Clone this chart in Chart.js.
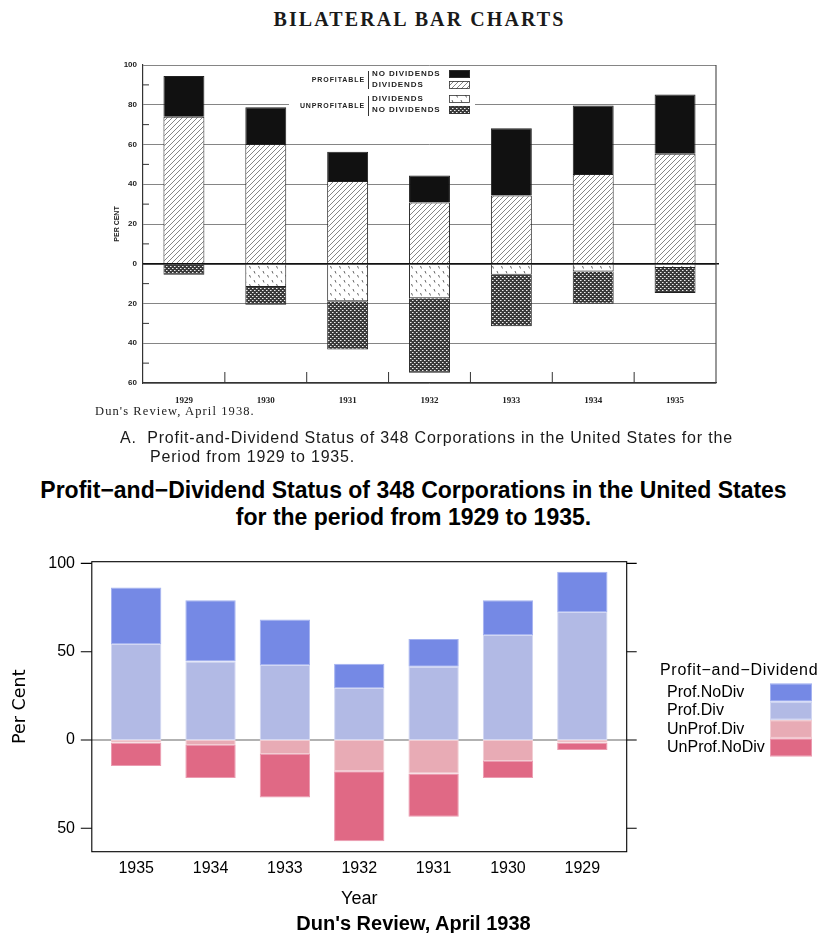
<!DOCTYPE html>
<html>
<head>
<meta charset="utf-8">
<title>Bilateral bar charts</title>
<script src="https://cdn.jsdelivr.net/npm/chart.js@4.4.0/dist/chart.umd.min.js"></script>
<style>
  body { margin: 0; background: #fff; }
  #page { position: relative; width: 821px; height: 933px; overflow: hidden; background: #fff; }
  .txt { position: absolute; white-space: nowrap; color: #000; }
  canvas { position: absolute; left: 0; }
  #scanHeading { left: 9px; width: 821px; top: 9px; text-align: center; font: bold 20px/20px "Liberation Serif", serif; letter-spacing: 2.1px; color: #1a1a1a; }
  #scanSource { left: 95px; top: 405px; font: 12.5px/12.5px "Liberation Serif", serif; letter-spacing: 1.1px; color: #222; }
  .scanCap { font: 16px/16px "Liberation Sans", sans-serif; letter-spacing: 0.8px; color: #1a1a1a; }
  #mainTitle { left: 3px; width: 821px; top: 477px; text-align: center; font: bold 23px/26.7px "Liberation Sans", Arial, sans-serif; }
  #mainSource { left: 3px; width: 821px; top: 913px; text-align: center; font: bold 20px/20px "Liberation Sans", Arial, sans-serif; }
</style>
</head>
<body>
<div id="page">
  <div class="txt" id="scanHeading">BILATERAL BAR CHARTS</div>
  <canvas id="scanChart" width="821" height="470" style="top:0"></canvas>
  <div class="txt" id="scanSource">Dun's Review, April 1938.</div>
  <div class="txt scanCap" style="left:120px;top:430px">A.&nbsp; Profit-and-Dividend Status of 348 Corporations in the United States for the</div>
  <div class="txt scanCap" style="left:150px;top:449px">Period from 1929 to 1935.</div>
  <div class="txt" id="mainTitle">Profit&minus;and&minus;Dividend Status of 348 Corporations in the United States<br>for the period from 1929 to 1935.</div>
  <canvas id="latticeChart" width="821" height="463" style="top:470px"></canvas>
  <div class="txt" id="mainSource">Dun's Review, April 1938</div>
</div>
<script>
// years, in the order of the 1938 original
const years = ["1929", "1930", "1931", "1932", "1933", "1934", "1935"];

// values (per cent of 348 corporations)
const profNoDiv   = [22.8, 19.8, 15.7, 13.8, 25.8, 34.7, 32.0];
const profDiv     = [72.5, 59.4, 41.5, 29.4, 42.5, 44.5, 54.3];
const unprofDiv   = [1.5, 11.9, 18.9, 17.7, 7.9, 2.8, 1.5];
const unprofNoDiv = [4.2, 9.6, 24.5, 39.7, 24.6, 18.7, 13.2];

// values
const scanProfNoDiv   = [20.5, 18.4, 14.7, 13.6, 33.9, 34.4, 29.8];
const scanProfDiv     = [74.0, 60.3, 41.6, 30.8, 34.3, 45.2, 55.3];
const scanUnprofDiv   = [0, 11.7, 18.9, 17.3, 5.5, 3.9, 2.2];
const scanUnprofNoDiv = [5.5, 8.9, 24.3, 37.6, 26.0, 16.2, 12.5];

const scanTicks  = [-60, -40, -20, 0, 20, 40, 60, 80, 100];
const scanMinor  = [-50, -30, -10, 10, 30, 50, 70, 90];
const lowerTicks = [-50, 0, 50, 100];

const seriesNames = ["Prof.NoDiv", "Prof.Div", "UnProf.Div", "UnProf.NoDiv"];
const scanGroups  = ["PROFITABLE", "UNPROFITABLE"];
const scanKinds   = ["NO DIVIDENDS", "DIVIDENDS", "DIVIDENDS", "NO DIVIDENDS"];

Chart.defaults.font.family = '"Liberation Sans", Arial, sans-serif';
Chart.defaults.color = "#000";

// ---------- top: the 1938 original ----------
const scanCtx = document.getElementById("scanChart").getContext("2d");

function tile(w, h, draw) {
  const c = document.createElement("canvas");
  c.width = w; c.height = h;
  draw(c.getContext("2d"));
  return scanCtx.createPattern(c, "repeat");
}
const hatch = tile(5, 5, g => {
  g.fillStyle = "#fff"; g.fillRect(0, 0, 5, 5);
  g.strokeStyle = "#666"; g.lineWidth = 0.8;
  g.beginPath();
  g.moveTo(0, 5); g.lineTo(5, 0);
  g.moveTo(-1, 1); g.lineTo(1, -1);
  g.moveTo(4, 6); g.lineTo(6, 4);
  g.stroke();
});
const dashes = tile(9, 9, g => {
  g.fillStyle = "#fff"; g.fillRect(0, 0, 9, 9);
  g.strokeStyle = "#666"; g.lineWidth = 1;
  g.beginPath();
  g.moveTo(2, 1); g.lineTo(3, 3.5);
  g.moveTo(6.5, 5); g.lineTo(7.5, 7.5);
  g.stroke();
});
const dots = tile(4, 4, g => {
  g.fillStyle = "#3a3a3a"; g.fillRect(0, 0, 4, 4);
  g.fillStyle = "#eee";
  g.fillRect(0, 0, 1, 1); g.fillRect(2, 2, 1, 1);
  g.fillStyle = "#999";
  g.fillRect(1, 0, 1, 1); g.fillRect(3, 2, 1, 1);
});
const scanFills = [dashes, dots]; // unprofitable fills, used by the legend too

const scanFrame = {
  id: "scanFrame",
  afterDatasetsDraw(chart) {
    const { ctx, chartArea: a, scales: { x, y } } = chart;
    ctx.save();
    // zero line over the bars
    ctx.strokeStyle = "#111"; ctx.lineWidth = 1.6;
    ctx.beginPath();
    ctx.moveTo(a.left, y.getPixelForValue(0)); ctx.lineTo(a.right + 3, y.getPixelForValue(0));
    ctx.stroke();
    // right border
    ctx.strokeStyle = "#444"; ctx.lineWidth = 1.1;
    ctx.beginPath(); ctx.moveTo(a.right, a.top); ctx.lineTo(a.right, a.bottom); ctx.stroke();
    // minor ticks inside the left edge
    ctx.strokeStyle = "#333"; ctx.lineWidth = 1;
    scanMinor.forEach(v => {
      const py = y.getPixelForValue(v);
      ctx.beginPath(); ctx.moveTo(a.left, py); ctx.lineTo(a.left + 6, py); ctx.stroke();
    });
    // ticks between the years, standing on the base line
    for (let i = 0; i < years.length - 1; i++) {
      const px = (x.getPixelForTick(i) + x.getPixelForTick(i + 1)) / 2;
      ctx.beginPath(); ctx.moveTo(px, a.bottom); ctx.lineTo(px, a.bottom - 11); ctx.stroke();
    }
    // legend box
    ctx.fillStyle = "#fff";
    ctx.fillRect(289, 67, 186, 52);
    ctx.fillStyle = "#222";
    ctx.font = 'bold 7px "Liberation Sans", Arial, sans-serif';
    ctx.letterSpacing = "0.9px";
    ctx.textBaseline = "middle";
    ctx.textAlign = "right";
    ctx.fillText(scanGroups[0], 365, 80);
    ctx.fillText(scanGroups[1], 365, 106);
    ctx.textAlign = "left";
    ctx.font = 'bold 8px "Liberation Sans", Arial, sans-serif';
    const rows = [74, 85, 99, 110];
    const fills = ["#111", hatch, scanFills[0], scanFills[1]];
    rows.forEach((ry, i) => {
      ctx.fillStyle = "#222";
      ctx.fillText(scanKinds[i], 372, ry);
      ctx.fillStyle = fills[i];
      ctx.fillRect(449, ry - 4, 21, 8);
      ctx.strokeStyle = "#333"; ctx.lineWidth = 0.8;
      ctx.strokeRect(449.5, ry - 3.5, 20, 7);
    });
    ctx.strokeStyle = "#333"; ctx.lineWidth = 1;
    ctx.beginPath();
    ctx.moveTo(368.5, 71); ctx.lineTo(368.5, 89);
    ctx.moveTo(368.5, 96); ctx.lineTo(368.5, 116);
    ctx.stroke();
    ctx.restore();
  }
};

new Chart(scanCtx, {
  type: "bar",
  data: {
    labels: years,
    datasets: [
      { label: scanKinds[1], data: scanProfDiv, backgroundColor: hatch },
      { label: scanKinds[0], data: scanProfNoDiv, backgroundColor: "#111" },
      { label: scanKinds[2], data: scanUnprofDiv.map(v => -v), backgroundColor: dashes },
      { label: scanKinds[3], data: scanUnprofNoDiv.map(v => -v), backgroundColor: dots }
    ]
  },
  options: {
    responsive: false,
    animation: false,
    layout: { padding: { left: 113, right: 105, top: 65, bottom: 67 } },
    datasets: { bar: { borderColor: "#222", borderWidth: 1, categoryPercentage: 1, barPercentage: 0.5 } },
    plugins: { legend: { display: false }, tooltip: { enabled: false } },
    scales: {
      x: {
        stacked: true,
        grid: { display: false },
        border: { color: "#333", width: 1.2 },
        ticks: { padding: 4, color: "#222", font: { family: '"Liberation Serif", serif', size: 9, weight: "bold" } },
        afterFit: s => { s.height = 20; }
      },
      y: {
        stacked: true,
        min: -60,
        max: 100,
        afterBuildTicks: s => { s.ticks = scanTicks.map(v => ({ value: v })); },
        grid: {
          drawTicks: false,
          color: c => (c.tick && c.tick.value === 0 ? "#111" : "#666"),
          lineWidth: c => (c.tick && c.tick.value === 0 ? 1.6 : 0.8)
        },
        border: { color: "#333", width: 1.2 },
        ticks: { padding: 6, color: "#222", font: { size: 8, weight: "bold" }, callback: v => Math.abs(v) },
        title: { display: true, text: "PER CENT", color: "#222", font: { size: 7, weight: "bold" }, padding: { top: 0, bottom: 0 } },
        afterFit: s => { s.width = 30; }
      }
    }
  },
  plugins: [scanFrame]
});

// ---------- bottom: the lattice-style redraw ----------
const lowCtx = document.getElementById("latticeChart").getContext("2d");
const fillCols   = ["#7589e5", "#b2bae5", "#e8abb5", "#e06985"];
const borderCols = ["#a4b2f0", "#d2d7f2", "#f2cdd3", "#eb9bb0"];
const lowYears = years.slice().reverse();
const rev = arr => arr.slice().reverse();

const latticeFrame = {
  id: "latticeFrame",
  beforeDatasetsDraw(chart) {
    const { ctx, chartArea: a, scales: { y } } = chart;
    const inset = 7.2;
    ctx.save();
    ctx.strokeStyle = "#999"; ctx.lineWidth = 1.3;
    ctx.beginPath();
    ctx.moveTo(a.left - inset, y.getPixelForValue(0));
    ctx.lineTo(a.right + inset, y.getPixelForValue(0));
    ctx.stroke();
    ctx.restore();
  },
  afterDraw(chart) {
    const { ctx, chartArea: a, scales: { y } } = chart;
    const inset = 7.2;
    const l = a.left - inset, r = a.right + inset;
    ctx.save();
    ctx.strokeStyle = "#000"; ctx.lineWidth = 1.1;
    ctx.strokeRect(l, a.top, r - l, a.bottom - a.top);
    lowerTicks.forEach(v => {
      const py = y.getPixelForValue(v);
      ctx.beginPath();
      ctx.moveTo(l - 11, py); ctx.lineTo(l, py);
      ctx.moveTo(r, py); ctx.lineTo(r + 10, py);
      ctx.stroke();
    });
    // legend
    ctx.textBaseline = "middle";
    ctx.textAlign = "left";
    ctx.fillStyle = "#000";
    ctx.font = '16px "Liberation Sans", Arial, sans-serif';
    ctx.letterSpacing = "0.7px";
    ctx.fillText("Profit\u2212and\u2212Dividend", 660, 200.7);
    ctx.letterSpacing = "0px";
    seriesNames.forEach((name, i) => {
      const cy = 222.7 + 18.35 * i;
      ctx.fillStyle = "#000";
      ctx.fillText(name, 667, cy);
      ctx.fillStyle = fillCols[i];
      ctx.fillRect(770, cy - 9, 42, 17.5);
      ctx.strokeStyle = borderCols[i]; ctx.lineWidth = 1;
      ctx.strokeRect(770.5, cy - 8.5, 41, 16.5);
    });
    ctx.restore();
  }
};

new Chart(lowCtx, {
  type: "bar",
  data: {
    labels: lowYears,
    datasets: [
      { label: seriesNames[1], data: rev(profDiv), backgroundColor: fillCols[1], borderColor: borderCols[1] },
      { label: seriesNames[0], data: rev(profNoDiv), backgroundColor: fillCols[0], borderColor: borderCols[0] },
      { label: seriesNames[2], data: rev(unprofDiv).map(v => -v), backgroundColor: fillCols[2], borderColor: borderCols[2] },
      { label: seriesNames[3], data: rev(unprofNoDiv).map(v => -v), backgroundColor: fillCols[3], borderColor: borderCols[3] }
    ]
  },
  options: {
    responsive: false,
    animation: false,
    layout: { padding: { left: 0, right: 201.5, top: 91.7, bottom: 19.3 } },
    datasets: { bar: { borderWidth: 1, borderSkipped: false, categoryPercentage: 1, barPercentage: 0.677 } },
    plugins: { legend: { display: false }, tooltip: { enabled: false } },
    scales: {
      x: {
        stacked: true,
        grid: { display: false, drawTicks: false },
        border: { display: false },
        ticks: { padding: 7, font: { size: 16 } },
        title: { display: true, text: "Year", font: { size: 18 }, padding: { top: 4, bottom: 4 } },
        afterFit: s => { s.height = 62; }
      },
      y: {
        stacked: true,
        min: -63.25,
        max: 100.96,
        afterBuildTicks: s => { s.ticks = lowerTicks.map(v => ({ value: v })); },
        grid: { display: false, drawTicks: false },
        border: { display: false },
        ticks: { padding: 24, font: { size: 16 }, callback: v => Math.abs(v) },
        title: { display: true, text: "Per Cent", font: { family: '"DejaVu Sans", sans-serif', size: 17.5 }, padding: { top: 10, bottom: 0 } },
        afterFit: s => { s.width = 99; }
      }
    }
  },
  plugins: [latticeFrame]
});
</script>
</body>
</html>
